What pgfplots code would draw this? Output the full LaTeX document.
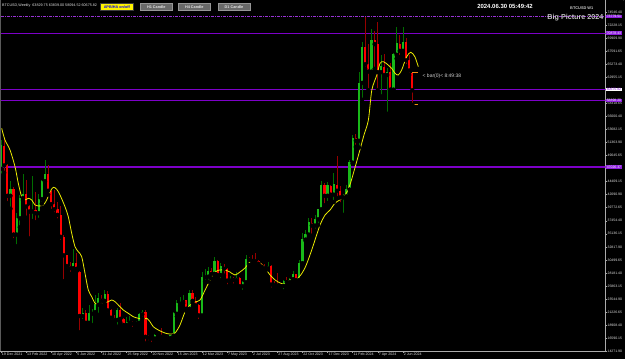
\documentclass[border=0pt]{standalone}
\usepackage{fontspec}
\setmainfont{Liberation Sans}
\usepackage{pgfplots}
\usepackage{pgfplotstable}
\pgfplotsset{compat=1.18}
\definecolor{bull}{RGB}{25,185,25}
\definecolor{bear}{RGB}{255,0,0}
\definecolor{wickup}{RGB}{0,110,0}
\definecolor{wickdn}{RGB}{150,0,0}
\definecolor{ma}{RGB}{235,235,0}
\definecolor{lvl}{RGB}{125,0,200}
\definecolor{hl}{RGB}{140,30,220}
\definecolor{axisgray}{RGB}{170,170,170}
\definecolor{lbl}{RGB}{225,225,225}
\definecolor{btn}{RGB}{105,105,105}
\pgfplotstableread{
i o h l c
0 46700 51800 45500 50800
1 50800 52100 46000 47300
2 47300 47600 40600 41900
3 41900 44500 39600 43100
4 43100 43500 34000 35000
5 35000 38900 32900 37900
6 37900 42000 36300 41500
7 41500 45800 41100 42200
8 42200 44700 38000 40000
9 40000 40300 34300 39100
10 39100 45400 37400 39400
11 39400 42500 37200 38800
12 38800 42300 37600 41300
13 41300 44800 40500 44500
14 44500 48200 44400 45800
15 45800 47400 42100 42800
16 42800 42900 39200 40400
17 40400 42900 38600 39500
18 39500 40800 37500 38500
19 38500 40000 33700 34600
20 34600 35000 26700 31300
21 31300 31400 28700 29400
22 29400 30200 28000 29000
23 29000 32400 28900 29900
24 29900 31700 28900 28400
25 28400 28600 17600 20500
26 20500 21900 19600 21000
27 21000 21500 18800 19300
28 19300 22500 18800 20900
29 20900 21700 18900 21200
30 21200 24200 20800 22500
31 22500 24600 20700 23600
32 23600 24200 22400 23200
33 23200 25200 22700 24400
34 24400 25000 20800 21500
35 21500 21800 19500 20200
36 20200 20600 19500 19800
37 19800 21900 18600 21600
38 21600 22800 19400 20000
39 20000 20200 18200 18900
40 18900 20400 18500 19300
41 19300 20500 19000 19400
42 19400 19700 18200 19150
43 19150 19700 18900 19300
44 19300 21000 19200 20800
45 20800 21500 20000 21200
46 21200 21500 15600 16800
47 16800 17200 15800 16650
48 16650 16800 15500 16500
49 16500 17300 16000 17100
50 17100 17400 16800 17150
51 17150 18400 16500 16800
52 16800 17000 16300 16830
53 16830 16900 16400 16550
54 16550 17100 16500 17000
55 17000 21200 16900 20900
56 20900 23300 20400 22700
57 22700 23800 22300 23000
58 23000 24200 22700 23300
59 23300 23400 21400 21800
60 21800 25200 21400 24600
61 24600 25200 22800 23200
62 23200 23900 21900 22400
63 22400 22600 19600 20600
64 20600 28400 20400 27400
65 27400 28900 26600 27500
66 27500 29200 26600 28500
67 28500 29100 27200 28000
68 28000 31000 27900 30300
69 30300 30500 27100 27800
70 27800 30000 26900 29300
71 29300 29800 27700 28900
72 28900 29000 25800 26800
73 26800 27600 26400 27100
74 27100 27500 25900 26900
75 26900 28400 26600 27200
76 27200 27400 25400 25800
77 25800 26800 24800 26500
78 26500 31400 26300 30600
79 30600 31000 29600 30500
80 30500 31300 29800 30300
81 30300 31800 29900 30250
82 30250 30400 29600 29800
83 29800 30000 28900 29300
84 29300 29700 28600 29000
85 29000 30200 28800 29400
86 29400 29600 25200 26100
87 26100 26800 25800 26000
88 26000 28100 25400 25900
89 25900 26400 25400 25850
90 25850 27000 24900 26600
91 26600 27400 26000 26550
92 26550 27300 26000 27000
93 27000 28600 27000 27900
94 27900 28000 26500 26900
95 26900 30400 26800 29900
96 29900 35200 29600 34100
97 34100 35900 33900 35000
98 35000 38000 34500 37100
99 37100 37900 34800 36600
100 36600 38400 35700 37700
101 37700 39500 36700 39500
102 39500 44500 39200 43800
103 43800 44100 40200 41900
104 41900 44300 40600 43700
105 43700 43800 41400 42100
106 42100 45900 40800 43900
107 43900 48900 41500 42800
108 42800 43600 40400 41600
109 41600 42300 38500 41800
110 41800 43900 41400 43000
111 43000 48200 42300 47800
112 47800 52800 47600 52100
113 52100 52900 50600 51700
114 51700 64000 50500 62000
115 62000 69200 59000 68300
116 68300 73800 64500 65300
117 65300 68900 60700 64000
118 64000 71600 63500 69600
119 69600 71300 64500 68900
120 68900 72800 60700 63900
121 63900 66900 59600 64900
122 64900 67200 62800 63400
123 63400 64700 56500 63900
124 63900 65500 60200 60800
125 60800 67400 60600 67000
126 67000 71900 66300 69000
127 69000 70600 66600 67700
128 67700 71900 67500 69300
129 69300 70000 65000 66000
130 66000 67000 63400 64200
131 63829.75 63839.00 58094.52 60675.82
}\btc
\begin{document}
\begin{tikzpicture}
\fill[black] (0,0) rectangle (625bp,359bp);
\begin{axis}[
  at={(0,8bp)}, anchor=south west,
  width=605.7bp, height=351bp, scale only axis,
  xmin=-0.3185, xmax=192.58, ymin=14273.75, ymax=76751.75,
  axis x line=bottom, axis y line=right,
  axis line style={-, draw=axisgray, line width=0.6bp},
  tick align=outside, major tick length=1.6bp,
  tick style={draw=axisgray, line width=0.5bp},
  xtick={0,8,...,128},
  xticklabels={19 Dec 2021,13 Feb 2022,10 Apr 2022,5 Jun 2022,31 Jul 2022,25 Sep 2022,20 Nov 2022,15 Jan 2023,12 Mar 2023,7 May 2023,2 Jul 2023,27 Aug 2023,22 Oct 2023,17 Dec 2023,11 Feb 2024,7 Apr 2024,2 Jun 2024},
  ytick={14271.90,16590.15,18908.40,21226.65,23544.90,25863.15,28181.40,30499.65,32817.90,35136.15,37454.40,39772.65,42090.90,44409.15,46727.40,49045.65,51363.90,53682.15,56000.40,58318.65,60636.90,62955.15,65273.40,67591.65,69909.90,72228.15,74546.40},
  yticklabels={14271.90,16590.15,18908.40,21226.65,23544.90,25863.15,28181.40,30499.65,32817.90,35136.15,37454.40,39772.65,42090.90,44409.15,,49045.65,51363.90,53682.15,56000.40,58318.65,,62955.15,65273.40,67591.65,69909.90,72228.15,74546.40},
  xticklabel style={font=\fontsize{3.6}{4}\selectfont, text=lbl, anchor=north west, inner sep=0.6bp, xshift=0.2bp},
  yticklabel style={font=\fontsize{3.45}{4}\selectfont, text=lbl, anchor=west, inner sep=0.3bp, xshift=-0.2bp},
]
% level lines
\addplot[lvl, line width=0.9bp] coordinates {(-2,70878) (200,70878)};
\addplot[lvl, line width=0.9bp] coordinates {(-2,60856) (200,60856)};
\addplot[lvl, line width=0.9bp] coordinates {(-2,58898) (200,58898)};
\addplot[lvl, line width=1.4bp] coordinates {(-2,47026) (200,47026)};
\addplot[lvl!80!white, line width=0.5bp, dash pattern=on 3bp off 1.2bp on 0.6bp off 1.2bp] coordinates {(-2,73779) (200,73779)};
% wicks
\addplot[only marks, mark=none, restrict expr to domain={\thisrow{c}-\thisrow{o}}{0:100000},
  error bars/.cd, y dir=plus, y explicit, error mark=none,
  error bar style={draw=wickup, line width=0.8bp}]
  table[x=i, y=l, y error plus expr=\thisrow{h}-\thisrow{l}] {\btc};
\addplot[only marks, mark=none, restrict expr to domain={\thisrow{c}-\thisrow{o}}{-100000:-0.001},
  error bars/.cd, y dir=plus, y explicit, error mark=none,
  error bar style={draw=wickdn, line width=0.8bp}]
  table[x=i, y=l, y error plus expr=\thisrow{h}-\thisrow{l}] {\btc};
% bodies
\addplot[only marks, mark=none, restrict expr to domain={\thisrow{c}-\thisrow{o}}{0:100000},
  error bars/.cd, y dir=plus, y explicit, error mark=none,
  error bar style={draw=bull, line width=2.2bp}]
  table[x=i, y=o, y error plus expr=\thisrow{c}-\thisrow{o}+60] {\btc};
\addplot[only marks, mark=none, restrict expr to domain={\thisrow{c}-\thisrow{o}}{-100000:-0.001},
  error bars/.cd, y dir=plus, y explicit, error mark=none,
  error bar style={draw=bear, line width=2.2bp}]
  table[x=i, y=c, y error plus expr=\thisrow{o}-\thisrow{c}] {\btc};
% moving average
\addplot[ma, line width=0.8bp, smooth, tension=0.5] coordinates {
(0.22,53914) (1.27,51832) (2.87,50052) (4.46,47079) (5.51,44124) (6.59,41739) (7.64,41152)
(8.69,41454) (9.78,41152) (10.83,40262) (11.88,40084) (13.47,40262) (14.55,41152) (15.61,42629)
(16.66,43412) (17.74,43056) (18.79,42042) (20.38,39959) (21.43,38179) (22.52,35224) (23.57,32839)
(24.62,31949) (25.7,31059) (26.75,28104) (27.8,25132) (28.89,23939) (29.94,22764) (30.99,22462)
(32.58,22764) (34.17,23049) (35.25,23352) (36.31,23049) (37.36,22462) (38.95,21572) (40.54,20984)
(42.13,20379) (43.73,20094) (45.32,19916) (46.4,20094) (47.45,19489) (48.5,18599) (50.1,18012)
(52.2,17478) (53.8,17300) (55.4,17478) (57.0,18902) (58.6,21216) (60.2,22462) (61.8,22996)
(63.4,23352) (65.0,25132) (66.6,26912) (68.2,28336) (69.7,28692) (71.3,28692) (72.9,28336)
(74.5,27802) (76.1,28336) (77.7,29048) (79.3,30116) (80.9,30116) (82.5,29938) (84.1,29048)
(85.7,27802) (87.3,26912) (88.9,26378) (90.4,26200) (92.0,26912) (93.6,26912) (95.2,27624)
(96.8,29048) (98.4,31362) (100.0,34032) (101.6,36702) (103.2,38482) (104.8,39372) (106.4,40618)
(107.9,41152) (109.6,42042) (111.1,43822) (112.7,46848) (114.3,50052) (115.6,52722) (117.0,55392)
(118.1,60732) (119.7,63402) (120.7,65484) (121.8,65769) (123.3,65182) (124.4,64594) (125.5,63704)
(126.5,63402) (127.6,64292) (129.2,66659) (130.5,67442) (131.8,66659) (132.9,64879)
};
% current bar high/low bracket
\addplot[color={rgb,255:red,240;green,140;blue,20}, line width=0.7bp] coordinates {(131,63839) (132.8,63839)};
\addplot[color={rgb,255:red,240;green,140;blue,20}, line width=0.7bp] coordinates {(131,58094) (132.8,58094)};
\end{axis}
% left border
\draw[color={rgb,255:red,90;green,90;blue,90}, line width=1bp] (0.5bp,8bp) -- (0.5bp,359bp);
% highlighted price labels
\tikzset{hlbl/.style={fill=hl, text=white, font=\fontsize{3.45}{4}\selectfont, inner xsep=0.4bp, inner ysep=0.5bp, anchor=west}}
\node[hlbl] at (606.2bp,342.3bp) {73779.51};
\node[hlbl] at (606.2bp,326bp) {70878.43};
\node[hlbl, fill=white, text=hl] at (606.2bp,269.7bp) {60675.82};
\node[hlbl] at (606.2bp,258.7bp) {58898.20};
\node[hlbl] at (606.2bp,192bp) {47026.37};
% header texts
\node[anchor=west, text=lbl, font=\fontsize{3.7}{4}\selectfont, inner sep=0] at (2bp,353.5bp) {BTCUSD,Weekly\ \ 63829.75 63839.00 58094.52 60675.82};
\node[draw={rgb,255:red,60;green,60;blue,60}, line width=0.4bp, fill=yellow, text={rgb,255:red,0;green,0;blue,230}, font=\fontsize{3.8}{4}\selectfont\bfseries, inner sep=0, minimum width=33.5bp, minimum height=7bp, anchor=center] at (116.8bp,352bp) {APB/HA on/off};
\foreach \xx/\tt in {156.3/H1 Candle,194.3/H4 Candle,234/D1 Candle}{
  \node[draw={rgb,255:red,150;green,150;blue,150}, line width=0.4bp, fill=btn, text=lbl, font=\fontsize{3.8}{4}\selectfont\bfseries, inner sep=0, minimum width=32.5bp, minimum height=6.6bp, anchor=center] at (\xx bp,352.2bp) {\tt};
}
\node[anchor=center, text=white, font=\fontsize{6}{7}\selectfont\bfseries, inner sep=0] at (505bp,352.5bp) {2024.06.30 05:49:42};
\node[anchor=east, text={rgb,255:red,205;green,205;blue,205}, font=\fontsize{3.9}{4.5}\selectfont\bfseries, inner sep=0] at (593.5bp,350.5bp) {BTCUSD W1};
\node[anchor=east, text={rgb,255:red,195;green,195;blue,195}, font=\fontsize{7.2}{8}\selectfont\bfseries, inner sep=0] at (603.5bp,341.5bp) {Big Picture 2024};
\node[anchor=west, text={rgb,255:red,210;green,210;blue,210}, font=\fontsize{5}{6}\selectfont, inner sep=0] at (422.5bp,283bp) {< bar(0)< 8:49:38};
\pgfresetboundingbox
\path[use as bounding box] (0,0) rectangle (625bp,359bp);
\end{tikzpicture}
\end{document}
